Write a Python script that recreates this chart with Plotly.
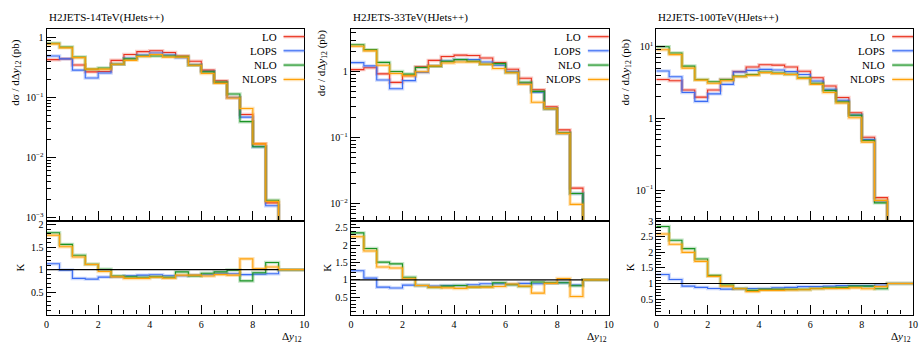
import plotly.graph_objects as go

# ---------------- data ----------------
edges = [0.0, 0.5, 1.0, 1.5, 2.0, 2.5, 3.0, 3.5, 4.0, 4.5, 5.0, 5.5, 6.0, 6.5, 7.0, 7.5, 8.0, 8.5, 9.0]
ratio_edges = edges + [10.0]
EMPTY = 1e-9  # empty bin beyond 9 (drawn off-scale on log axis)

series_names = ["LO", "LOPS", "NLO", "NLOPS"]
series_colors = ["#ea3320", "#3a6cf4", "#1a9425", "#ffa10a"]
series_halo = ["rgba(234,51,32,0.25)", "rgba(58,108,244,0.25)", "rgba(26,148,37,0.25)", "rgba(255,161,10,0.3)"]

titles = ["H2JETS-14TeV(HJets++)", "H2JETS-33TeV(HJets++)", "H2JETS-100TeV(HJets++)"]

# 14 TeV
lo_14 = [0.426, 0.44, 0.348, 0.267, 0.27, 0.415, 0.52, 0.58, 0.60, 0.56, 0.49, 0.40, 0.285, 0.19, 0.100, 0.052, 0.0169, 0.00176]
lops_14 = [0.49, 0.44, 0.285, 0.211, 0.255, 0.357, 0.45, 0.51, 0.55, 0.51, 0.46, 0.35, 0.27, 0.177, 0.100, 0.047, 0.0151, 0.00157]
nlo_14 = [0.80, 0.69, 0.47, 0.296, 0.31, 0.357, 0.44, 0.49, 0.49, 0.49, 0.48, 0.343, 0.267, 0.18, 0.114, 0.0396, 0.0151, 0.00194]
nlops_14 = [0.78, 0.67, 0.46, 0.296, 0.296, 0.357, 0.415, 0.48, 0.52, 0.47, 0.47, 0.343, 0.25, 0.172, 0.098, 0.0655, 0.0169, 0.00185]
k_lops_14 = [1.13, 0.99, 0.805, 0.79, 0.834, 0.84, 0.863, 0.877, 0.885, 0.863, 0.863, 0.877, 0.885, 0.92, 0.91, 0.89, 0.90, 0.91, 1.0]
k_nlo_14 = [1.82, 1.56, 1.32, 1.12, 1.01, 0.86, 0.84, 0.83, 0.84, 0.83, 0.95, 0.86, 0.92, 0.95, 0.99, 0.75, 0.93, 1.16, 1.0]
k_nlops_14 = [1.765, 1.51, 1.28, 1.115, 0.96, 0.84, 0.805, 0.805, 0.83, 0.81, 0.877, 0.877, 0.86, 0.89, 0.877, 1.24, 1.02, 1.06, 1.0]

# 33 TeV
lo_33 = [1.08, 1.15, 0.93, 0.69, 0.87, 1.19, 1.49, 1.71, 1.79, 1.77, 1.62, 1.38, 1.095, 0.796, 0.533, 0.294, 0.131, 0.0171]
lops_33 = [1.38, 1.23, 0.75, 0.552, 0.734, 0.98, 1.23, 1.46, 1.54, 1.53, 1.41, 1.26, 1.0, 0.67, 0.49, 0.275, 0.116, 0.0142]
nlo_33 = [2.58, 2.17, 1.39, 1.01, 0.923, 1.16, 1.21, 1.44, 1.53, 1.44, 1.30, 1.33, 0.977, 0.694, 0.504, 0.275, 0.118, 0.0142]
nlops_33 = [2.44, 2.08, 1.26, 0.94, 0.87, 1.0, 1.23, 1.36, 1.41, 1.41, 1.30, 1.12, 0.966, 0.648, 0.345, 0.275, 0.116, 0.0097]
k_lops_33 = [1.26, 1.05, 0.79, 0.765, 0.85, 0.84, 0.82, 0.84, 0.84, 0.86, 0.89, 0.89, 0.87, 0.90, 0.89, 0.90, 0.915, 0.85, 1.0]
k_nlo_33 = [2.35, 1.90, 1.51, 1.46, 1.075, 0.84, 0.78, 0.82, 0.84, 0.79, 0.80, 0.915, 0.86, 0.81, 0.94, 0.915, 0.915, 0.83, 1.0]
k_nlops_33 = [2.24, 1.83, 1.37, 1.34, 1.03, 0.84, 0.79, 0.77, 0.755, 0.79, 0.79, 0.81, 0.88, 0.82, 0.62, 0.90, 1.04, 0.52, 1.0]

# 100 TeV
lo_100 = [3.47, 3.33, 2.48, 1.97, 2.48, 3.47, 4.47, 5.17, 5.56, 5.50, 5.17, 4.52, 3.66, 2.82, 1.95, 1.195, 0.545, 0.0786]
lops_100 = [4.56, 3.78, 2.29, 1.72, 2.19, 2.97, 4.42, 4.65, 4.80, 4.70, 4.47, 4.07, 3.30, 2.54, 1.78, 1.11, 0.506, 0.0707]
nlo_100 = [9.9, 8.1, 5.33, 3.47, 3.23, 3.47, 3.86, 4.07, 4.42, 4.28, 4.10, 3.66, 3.07, 2.43, 1.69, 1.10, 0.49, 0.0665]
nlops_100 = [9.0, 7.7, 5.0, 3.40, 3.07, 3.33, 3.78, 3.98, 4.33, 4.19, 4.07, 3.59, 2.97, 2.29, 1.63, 1.02, 0.466, 0.072]
k_lops_100 = [1.29, 1.13, 0.915, 0.875, 0.84, 0.82, 0.83, 0.84, 0.84, 0.86, 0.875, 0.90, 0.90, 0.915, 0.93, 0.93, 0.93, 0.95, 1.0]
k_nlo_100 = [2.83, 2.39, 2.12, 1.785, 1.26, 0.95, 0.84, 0.78, 0.81, 0.81, 0.81, 0.81, 0.84, 0.86, 0.875, 0.915, 0.915, 0.83, 1.0]
k_nlops_100 = [2.59, 2.26, 2.0, 1.71, 1.23, 0.915, 0.83, 0.74, 0.78, 0.78, 0.79, 0.80, 0.83, 0.84, 0.84, 0.86, 0.83, 0.90, 1.0]

main_data = [
    [lo_14, lops_14, nlo_14, nlops_14],
    [lo_33, lops_33, nlo_33, nlops_33],
    [lo_100, lops_100, nlo_100, nlops_100],
]
ratio_data = [
    [k_lops_14, k_nlo_14, k_nlops_14],
    [k_lops_33, k_nlo_33, k_nlops_33],
    [k_lops_100, k_nlo_100, k_nlops_100],
]

main_tickvals = [[1, 0.1, 0.01, 0.001], [1, 0.1, 0.01], [10, 1, 0.1]]
main_ticktext = [["1", "10<sup>−1</sup>", "10<sup>−2</sup>", "10<sup>−3</sup>"],
                 ["1", "10<sup>−1</sup>", "10<sup>−2</sup>"],
                 ["10<sup>1</sup>", "1", "10<sup>−1</sup>"]]
ratio_tickvals = [[0.5, 1, 1.5, 2], [0.5, 1, 1.5, 2, 2.5], [0.5, 1, 1.5, 2, 2.5, 3]]
xtick_vals = [0, 2, 4, 6, 8, 10]

# ---------------- layout geometry (pixels) ----------------
W, H = 924, 348
panel_x = [(44, 304), (351, 611), (659, 918)]
main_y = (24.5, 220)
ratio_y = (220, 316)
main_range = [[-3.05, 0.14], [-2.26, 0.65], [-1.424, 1.243]]
ratio_range = [[0, 2.09], [0, 2.705], [0, 3.02]]
ylabel_pos = [(13, 32), (322, 23), (628, 32)]

FONT = "Liberation Serif"


def px(x):
    return x / W


def py(y):
    return 1 - y / H


fig = go.Figure()


def minor_log(lo_exp, hi_exp):
    vals = []
    for e in range(lo_exp, hi_exp + 1):
        for m in range(2, 10):
            vals.append(m * 10 ** e)
    return vals


for i in range(3):
    xm, ym = f"x{2*i+1}", f"y{2*i+1}"
    xr, yr = f"x{2*i+2}", f"y{2*i+2}"
    # main histograms
    for s in range(4):
        vals = main_data[i][s]
        yv = list(vals) + [EMPTY]
        for halo in (True, False):
            fig.add_trace(go.Scatter(
                x=edges, y=yv, mode="lines", line_shape="hv",
                line=dict(color=series_halo[s] if halo else series_colors[s], width=3.5 if halo else 1.1),
                xaxis=xm, yaxis=ym, showlegend=False, hoverinfo="skip"))
    # ratio lines
    for s in range(3):
        vals = ratio_data[i][s]
        yv = list(vals) + [vals[-1]]
        for halo in (True, False):
            fig.add_trace(go.Scatter(
                x=ratio_edges, y=yv, mode="lines", line_shape="hv",
                line=dict(color=series_halo[s + 1] if halo else series_colors[s + 1], width=3.5 if halo else 1.1),
                xaxis=xr, yaxis=yr, showlegend=False, hoverinfo="skip"))
    # reference line K = 1
    fig.add_trace(go.Scatter(x=[edges[0], edges[-1]], y=[1, 1], mode="lines",
                             line=dict(color="black", width=1.1), xaxis=xr, yaxis=yr,
                             showlegend=False, hoverinfo="skip"))

    x0, x1 = panel_x[i]
    dom_x = [px(x0), px(x1)]
    axis_common = dict(showline=True, linecolor="black", linewidth=1.3, mirror=True,
                       ticks="inside", tickcolor="black", ticklen=9, tickwidth=1,
                       showgrid=False, zeroline=False,
                       tickfont=dict(family=FONT, size=10, color="black"))
    xa = dict(axis_common, domain=dom_x, range=[0, 10], tickvals=xtick_vals,
              minor=dict(ticks="inside", ticklen=4.5, tickcolor="black", dtick=0.5, tick0=0, showgrid=False))
    key_m = "xaxis" if i == 0 else f"xaxis{2*i+1}"
    fig.layout[key_m] = dict(xa, anchor=ym, showticklabels=False)
    fig.layout[f"xaxis{2*i+2}"] = dict(xa, anchor=yr, matches=xm, showticklabels=True)
    key_ym = "yaxis" if i == 0 else f"yaxis{2*i+1}"
    lo_e = int(main_range[i][0]) - 1
    hi_e = int(main_range[i][1]) + 1
    fig.layout[key_ym] = dict(axis_common, type="log", anchor=xm,
                              domain=[py(main_y[1]), py(main_y[0])], range=main_range[i],
                              tickvals=main_tickvals[i], ticktext=main_ticktext[i],
                              minor=dict(ticks="inside", ticklen=4.5, tickcolor="black",
                                         tickmode="array", tickvals=minor_log(lo_e, hi_e), showgrid=False))
    fig.layout[f"yaxis{2*i+2}"] = dict(axis_common, anchor=xr,
                                        domain=[py(ratio_y[1]), py(ratio_y[0])], range=ratio_range[i],
                                        tickvals=ratio_tickvals[i],
                                        minor=dict(ticks="inside", ticklen=4.5, tickcolor="black",
                                                   dtick=0.1, tick0=0, showgrid=False))

    # title
    fig.add_annotation(text=titles[i], x=px(x0), y=py(13), xref="paper", yref="paper",
                       xanchor="left", yanchor="middle", showarrow=False,
                       font=dict(family=FONT, size=11, color="black"))
    # legend (manual, text left of line sample)
    for s in range(4):
        yy = [32.3, 46.7, 61.3, 76.0][s]
        fig.add_annotation(text=series_names[s], x=px(x1 - 26), y=py(yy), xref="paper", yref="paper",
                           xanchor="right", yanchor="middle", showarrow=False,
                           font=dict(family=FONT, size=11, color="black"))
        fig.add_shape(type="line", xref="paper", yref="paper", x0=px(x1 - 21), x1=px(x1),
                      y0=py(yy), y1=py(yy), line=dict(color=series_halo[s], width=3.5))
        fig.add_shape(type="line", xref="paper", yref="paper", x0=px(x1 - 21), x1=px(x1),
                      y0=py(yy), y1=py(yy), line=dict(color=series_colors[s], width=1.1))
    # y-axis labels
    lx, ly = ylabel_pos[i]
    fig.add_annotation(text="dσ / dΔ<i>y</i><sub>12</sub> (pb)", x=px(lx), y=py(ly), xref="paper", yref="paper",
                       xanchor="center", yanchor="top", textangle=-90, showarrow=False,
                       font=dict(family=FONT, size=11, color="black"))
    fig.add_annotation(text="K", x=px(lx + 4), y=py(268), xref="paper", yref="paper",
                       xanchor="center", yanchor="middle", textangle=-90, showarrow=False,
                       font=dict(family=FONT, size=11, color="black"))
    fig.add_annotation(text="Δ<i>y</i><sub>12</sub>", x=px(x1), y=py(339), xref="paper", yref="paper",
                       xanchor="right", yanchor="middle", showarrow=False,
                       font=dict(family=FONT, size=11, color="black"))

fig.update_layout(width=W, height=H, margin=dict(l=0, r=0, t=0, b=0),
                  paper_bgcolor="white", plot_bgcolor="white", showlegend=False)

fig.write_html("out.html", config={"displayModeBar": False},
               post_script="document.body.style.margin='0';document.body.style.overflow='hidden';")
